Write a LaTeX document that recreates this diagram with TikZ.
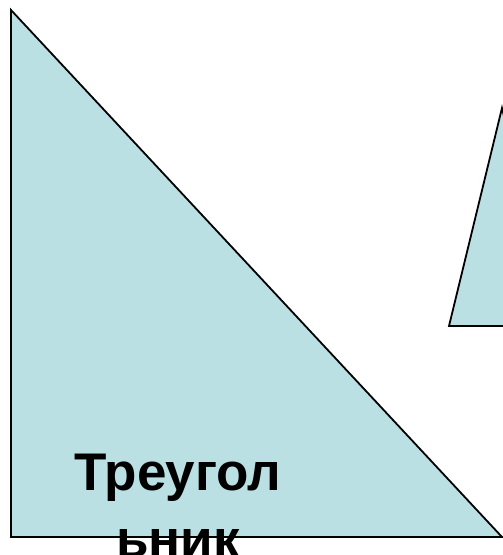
\documentclass[tikz,border=0pt]{standalone}
\usepackage{fontspec}
\setmainfont{Liberation Sans}
\usepackage{xcolor}
\usepackage{tikz}
\usetikzlibrary{positioning}
\definecolor{ShapeFill}{RGB}{187,224,227}

\begin{document}
\begin{tikzpicture}[x=1pt,y=-1pt]
  \clip (0,0) rectangle (503,555);
  % big right triangle
  \draw[fill=ShapeFill, line width=1.8pt] (11,10) -- (11,537) -- (502,537) -- cycle;
  % second triangle, cut by the edge
  \draw[fill=ShapeFill, line width=1.8pt] (502,108) -- (449,326) -- (556,326) -- cycle;
  \node[align=center, anchor=base, inner sep=0pt,
        font=\fontsize{53}{67}\selectfont\bfseries] (label) at (178,557) {Треугол\\ьник};
\end{tikzpicture}
\end{document}
